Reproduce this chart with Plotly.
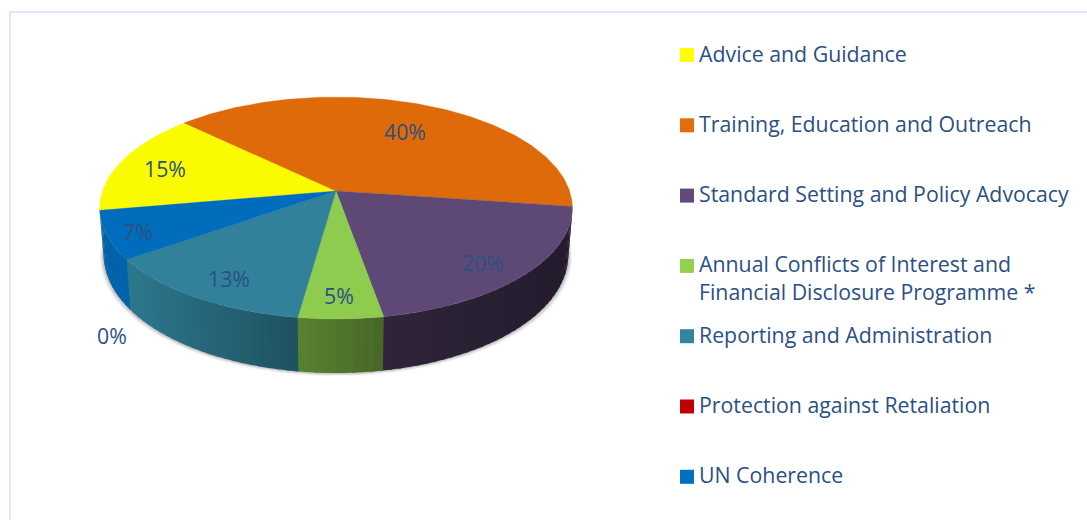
import numpy as np
import plotly.graph_objects as go

categories = [
    "Advice and Guidance",
    "Training, Education and Outreach",
    "Standard Setting and Policy Advocacy",
    "Annual Conflicts of Interest and<br>Financial Disclosure Programme *",
    "Reporting and Administration",
    "Protection against Retaliation",
    "UN Coherence",
]
values = [15, 40, 20, 5, 13, 0, 7]
top_colors = ["#FAFA00", "#DF6A09", "#5E4875", "#8DCC4E", "#308199", "#C00000", "#006DBC"]
key_colors = ["#FFFF00", "#E46C0A", "#604A7B", "#92D050", "#31859C", "#C00000", "#0070C0"]

# layout constants (pixels of the page)
W, H = 1087, 520
CX, CY = 336.0, 191.0
A, B, K = 233.6, 108.4, 0.153
START = 260.0
label_xy = [(165, 172), (405, 135), (483, 266), (339, 299), (229, 282), (112, 339), (138, 235)]
KEY_X, KEY_TEXT_X, KEY_TOP, KEY_PITCH = 687, 699, 55, 70.3
TEXT = "#2B5083"
FONT = "Open Sans"
FONT_SIZE = 21.3


def top_pt(theta):
    t = np.radians(theta)
    u, v = np.sin(t), -np.cos(t)
    w = 1 - K * v
    return CX + A * u / w, CY + B * v / w


def bottom_pt(theta):
    x, y = top_pt(theta)
    v = -np.cos(np.radians(theta))
    return CX + 0.983 * (x - CX), y + 45 + 9 * v


def shade_factor(x):
    return np.interp(x, [100, 130, 298, 383, 570], [0.90, 0.92, 0.63, 0.50, 0.38])


def rgb_scaled(hex_color, f):
    r, g, b = (int(hex_color[i:i + 2], 16) for i in (1, 3, 5))
    return f"rgb({r * f:.0f},{g * f:.0f},{b * f:.0f})"


fig = go.Figure()


def poly(xs, ys, color, lw=0):
    fig.add_trace(go.Scatter(
        x=xs, y=ys, mode="lines", fill="toself", fillcolor=color,
        line=dict(color=color, width=lw), showlegend=False, hoverinfo="skip"))


# soft shadow under the drum
ring = np.arange(80, 281, 2.0)
bx, by = bottom_pt(ring)
for off, alpha in [(4, 0.05), (3, 0.07), (2, 0.10), (1, 0.14)]:
    sx = CX + (bx - CX) * (1 + off / 240)
    poly(sx.tolist(), (by + off * 0.8).tolist(), f"rgba(60,60,60,{alpha})")

# slice angle ranges from the values
total = sum(values)
edges = START + np.cumsum([0] + values) * 360 / total

# drum sides: each strip overlaps the next one so no seams show
VIS0, VIS1 = 98.0, 262.0
for shift in (0, 360):
    for i, val in enumerate(values):
        if val == 0:
            continue
        a0, a1 = edges[i] - shift, edges[i + 1] - shift
        lo, hi = max(a0, VIS0), min(a1, VIS1)
        if hi <= lo:
            continue
        n = max(2, int((hi - lo) / 2))
        steps = np.linspace(lo, hi, n + 1)
        for j, (s0, s1) in enumerate(zip(steps[:-1], steps[1:])):
            end = s1 + 0.6 if s1 < VIS1 - 0.01 else s1
            arc = np.linspace(s0, end, 4)
            tx, ty = top_pt(arc)
            bx, by = bottom_pt(arc[::-1])
            xs = np.r_[tx, bx, tx[0]]
            ys = np.r_[ty, by, ty[0]]
            poly(xs.tolist(), ys.tolist(), rgb_scaled(top_colors[i], shade_factor(tx.mean())))

# top face
for i, val in enumerate(values):
    if val == 0:
        continue
    arc = np.linspace(edges[i], edges[i + 1], max(3, int(val * 3.6)))
    tx, ty = top_pt(arc)
    poly(np.r_[CX, tx, CX].tolist(), np.r_[CY, ty, CY].tolist(), top_colors[i], 0.3)

# percentage labels
fig.add_trace(go.Scatter(
    x=[p[0] for p in label_xy], y=[p[1] for p in label_xy],
    mode="text", text=[f"{v}%" for v in values], textposition="middle center",
    textfont=dict(family=FONT, size=FONT_SIZE, color=TEXT), showlegend=False, hoverinfo="skip"))

# key
rows = [KEY_TOP + KEY_PITCH * i for i in range(len(categories))]
fig.add_trace(go.Scatter(
    x=[KEY_X] * len(rows), y=rows, mode="markers",
    marker=dict(symbol="square", size=14, color=key_colors, line=dict(width=0)),
    showlegend=False, hoverinfo="skip"))
for name, yy in zip(categories, rows):
    fig.add_annotation(
        x=KEY_TEXT_X, y=yy - 16.5, xref="x", yref="y", xanchor="left", yanchor="top",
        align="left", showarrow=False, borderpad=0, borderwidth=0,
        text=name, font=dict(family=FONT, size=FONT_SIZE, color=TEXT))

fig.update_layout(
    width=W, height=H, margin=dict(l=0, r=0, t=0, b=0),
    paper_bgcolor="white", plot_bgcolor="white", showlegend=False,
    xaxis=dict(range=[0, W], visible=False, fixedrange=True),
    yaxis=dict(range=[H, 0], visible=False, fixedrange=True),
    shapes=[
        dict(type="line", xref="x", yref="y", x0=10, x1=10, y0=11, y1=H, line=dict(color="#DCE8F5", width=2)),
        dict(type="line", xref="x", yref="y", x0=9, x1=W, y0=12, y1=12, line=dict(color="#DCE8F5", width=2)),
    ],
)
fig.write_html("out.html", config={"displayModeBar": False},
               post_script="document.body.style.margin='0';")
